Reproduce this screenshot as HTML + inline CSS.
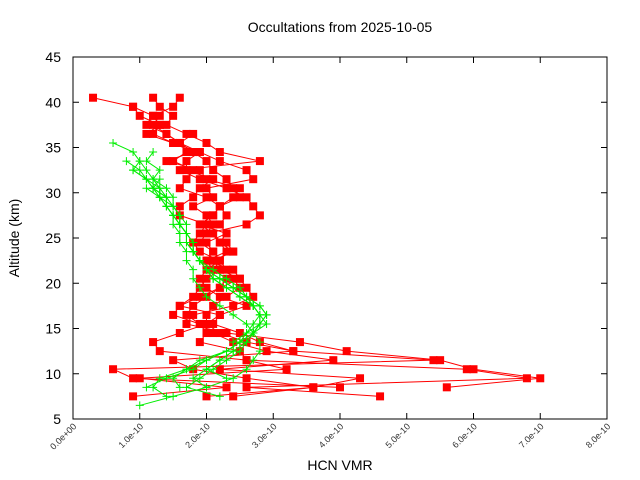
<!DOCTYPE html>
<html><head><meta charset="utf-8"><style>
body{margin:0;background:#fff;}
svg{display:block;font-family:"Liberation Sans",sans-serif;}
</style></head><body>
<svg id="chart" width="640" height="480">
<text x="340" y="32" font-size="14" text-anchor="middle">Occultations from 2025-10-05</text>
<text transform="translate(19,238) rotate(-90)" font-size="14" text-anchor="middle">Altitude (km)</text>
<text x="340" y="470" font-size="14" text-anchor="middle">HCN VMR</text>
<g id="plot"></g>
</svg>
<script>
const xTicks=[0,1,2,3,4,5,6,7,8];
const xTickLabels=["0.0e+00","1.0e-10","2.0e-10","3.0e-10","4.0e-10","5.0e-10","6.0e-10","7.0e-10","8.0e-10"];
const yTicks=[5,10,15,20,25,30,35,40,45];
// red profiles (values in 1e-10), altitudes descending from top alt in 1 km steps
const redTops=[40.5,40.5,40.5,39.5,38.5,36.5];
const redVals=[
[0.3,0.9,1.2,1.1,1.4,1.6,1.8,2.0,2.1,2.3,2.4,2.5,2.2,2.3,2.2,2.3,2.0,2.1,2.2,2.3,2.4,2.5,2.3,2.1,2.0,2.0,2.2,2.6,3.3,5.4,0.6,0.9,4.0],
[1.2,1.3,1.5,1.4,1.7,2.0,2.2,2.8,1.6,1.9,2.3,2.6,2.7,2.8,2.6,2.0,2.3,2.4,2.1,2.2,2.5,2.6,2.7,2.4,1.8,1.7,2.3,3.4,4.1,5.5,6.0,7.0,5.6],
[1.6,1.5,1.2,1.3,1.1,1.5,1.9,1.7,1.7,2.1,1.9,1.8,1.6,1.6,2.0,1.9,1.8,1.9,2.2,2.0,1.9,2.0,2.2,2.6,2.2,2.0,1.6,1.2,1.3,2.6,5.9,6.8,2.6,4.6],
[0.9,1.0,1.3,1.2,1.5,1.8,1.4,1.9,2.0,2.5,2.4,2.2,2.1,1.9,2.1,2.2,2.3,2.0,2.1,2.3,2.2,2.0,1.8,1.7,1.9,2.1,2.4,2.9,3.9,2.2,4.3,3.6,2.0],
[1.3,1.2,1.4,1.6,1.9,2.2,2.6,2.7,2.0,2.1,1.8,2.0,2.1,2.0,1.9,2.1,2.0,2.4,2.5,2.2,1.9,1.6,1.5,1.9,2.0,1.9,2.5,2.6,3.2,1.0,2.3,0.9],
[1.8,1.6,1.7,1.5,1.8,1.7,1.6,2.0,2.2,2.1,1.9,2.3,2.2,2.4,2.1,2.2,2.0,1.9,1.8,1.6,2.2,2.1,2.5,2.8,3.3,1.5,1.8,2.6,3.6,2.4]
];
const greenTops=[35.5,34.5,33.5,33.5,32.5,31.5,30.5];
const greenVals=[
[0.6,0.9,1.0,1.1,1.2,1.3,1.4,1.4,1.5,1.5,1.6,1.6,1.7,1.7,1.8,1.8,1.9,2.0,2.2,2.4,2.6,2.7,2.8,2.8,2.7,2.6,2.4,2.0,1.5,1.0],
[1.2,1.1,1.3,1.2,1.4,1.5,1.5,1.6,1.7,1.7,1.8,1.8,1.9,2.1,2.3,2.5,2.6,2.7,2.8,2.8,2.6,2.5,2.3,2.0,1.8,1.4,1.1],
[0.8,1.0,1.1,1.2,1.4,1.5,1.6,1.6,1.7,1.7,1.8,1.9,2.0,2.2,2.4,2.6,2.8,2.9,2.8,2.7,2.5,2.3,2.0,1.7,1.3,1.2,1.4],
[1.0,0.9,1.1,1.3,1.3,1.5,1.6,1.6,1.7,1.8,1.8,1.9,2.0,2.1,2.3,2.5,2.7,2.8,2.8,2.7,2.6,2.4,2.2,2.0,2.3],
[0.9,1.1,1.2,1.3,1.4,1.5,1.6,1.7,1.7,1.8,1.9,2.0,2.1,2.3,2.5,2.7,2.8,2.9,2.7,2.5,2.3,1.9,1.7,1.5,1.6],
[1.3,1.2,1.4,1.4,1.5,1.6,1.7,1.7,1.8,1.9,2.0,2.2,2.4,2.6,2.7,2.8,2.7,2.6,2.4,2.4,2.2,2.0,1.8,2.0],
[1.1,1.3,1.4,1.5,1.6,1.7,1.8,1.8,1.9,2.0,2.2,2.4,2.6,2.8,2.9,2.8,2.7,2.6,2.5,2.3,2.1,1.9,1.7,2.2]
];
const L=73,R=607,T=57,B=419;
const xs=v=>L+(v/8)*(R-L);
const ys=a=>B-(a-5)/40*(B-T);
const NS="http://www.w3.org/2000/svg";
const g=document.getElementById('plot');
function mk(t,at,p){const e=document.createElementNS(NS,t);for(const k in at)e.setAttribute(k,at[k]);(p||g).appendChild(e);return e;}
xTicks.forEach((t,i)=>{
 const x=xs(t);
 const tk=mk('path',{d:`M${x},${B}v-6M${x},${T}v6`,stroke:'#000','stroke-width':1});
 
 
 const lb=mk('text',{transform:`translate(${x+4},${B+8}) rotate(-45)`,'font-size':9,'text-anchor':'end',fill:'#333'});
 lb.textContent=xTickLabels[i];
 
 
});
yTicks.forEach(t=>{
 const y=ys(t);
 const tk=mk('path',{d:`M${L},${y}h6M${R},${y}h-6`,stroke:'#000','stroke-width':1});
 
 
 const lb=mk('text',{x:L-12,y:y+5,'font-size':14,'text-anchor':'end',fill:'#000'});
 lb.textContent=t;
 
 
});
function drawSeries(tops,vals,color,kind,name){
 vals.forEach((arr,j)=>{
  const grp=mk('g',{});
  
  
  const pts=arr.map((v,i)=>[xs(v),ys(tops[j]-i)]);
  const ln=mk('polyline',{points:pts.map(p=>p.join(',')).join(' '),fill:'none',stroke:color,'stroke-width':1},grp);
  
  
  pts.forEach(p=>{
   let m;
   if(kind==='sq') m=mk('rect',{x:p[0]-4,y:p[1]-4,width:8,height:8,fill:color},grp);
   else m=mk('path',{d:`M${p[0]-4},${p[1]}h8M${p[0]},${p[1]-4}v8`,stroke:color,'stroke-width':1},grp);
   
   
  });
 });
}
drawSeries(redTops,redVals,'#ff0000','sq','red');
drawSeries(greenTops,greenVals,'#00ee00','plus','green');
const fr=mk('rect',{x:L,y:T,width:R-L,height:B-T,fill:'none',stroke:'#000','stroke-width':1});


</script>
</body></html>
